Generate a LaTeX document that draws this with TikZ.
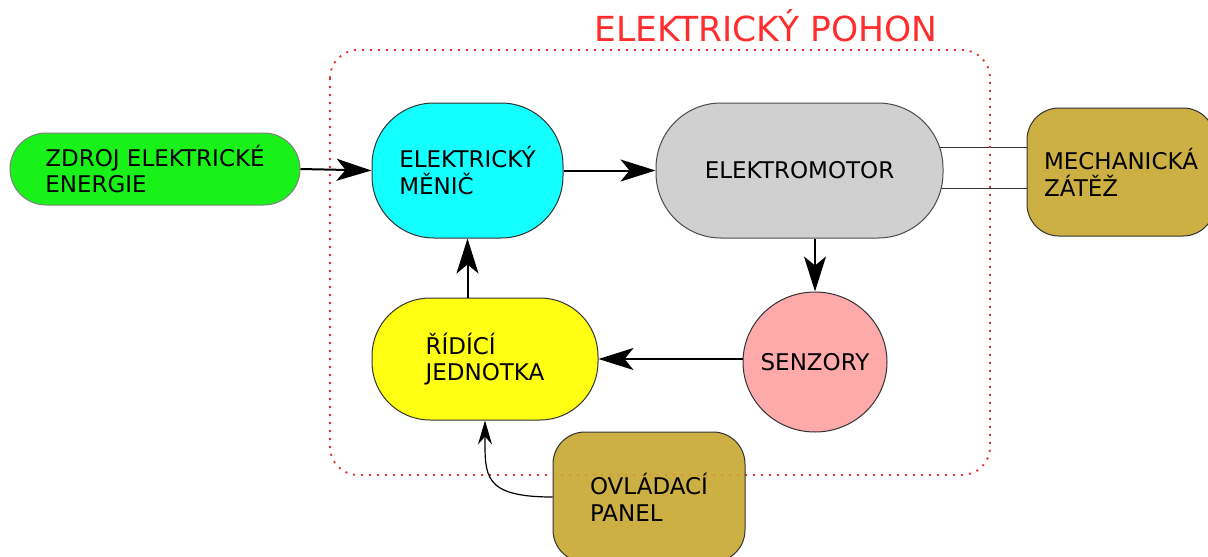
\documentclass[tikz,border=0pt]{standalone}
\usepackage{fontspec}
\setmainfont{DejaVu Sans}
\usetikzlibrary{arrows.meta,shapes.geometric,backgrounds,calc}
\definecolor{cgreen}{RGB}{24,242,24}
\definecolor{ccyan}{RGB}{20,255,255}
\definecolor{cgray}{RGB}{208,208,208}
\definecolor{colive}{RGB}{204,176,68}
\definecolor{cyellow}{RGB}{255,255,20}
\definecolor{cpink}{RGB}{255,170,170}
\definecolor{cred}{RGB}{255,45,45}
\definecolor{cframe}{RGB}{230,50,50}
\definecolor{cborder}{RGB}{50,50,50}
\tikzset{
  blockbox/.style={draw=cborder, line width=1pt, align=left, inner sep=0pt,
    font=\fontsize{23}{26.7}\selectfont},
  mainarrow/.style={line width=2pt, -{Stealth[length=35pt,width=22pt,inset=9pt]}},
  thinarrow/.style={line width=1.2pt, -{Stealth[length=24pt,width=14pt,inset=8pt]}},
  shaft/.style={line width=1pt, draw=cborder},
  framestyle/.style={cframe, line width=1.8pt, dash pattern=on 2pt off 6pt, rounded corners=28pt}
}
\begin{document}
\begin{tikzpicture}[x=1pt,y=-1pt]
\useasboundingbox (0,0) rectangle (1208,557);
% frame
\draw[framestyle] (330,50) rectangle (990,475);
\node[text=cred, font=\fontsize{34.5}{40}\selectfont, anchor=base] (title) at (766,41.7) {ELEKTRICKÝ POHON};
% nodes
\node[blockbox, fill=cgreen, draw=gray, minimum width=290pt, minimum height=72pt, rounded corners=36pt] (zdroj) at (155,169) {ZDROJ ELEKTRICKÉ\\ENERGIE};
\node[blockbox, fill=ccyan, minimum width=191pt, minimum height=135pt, rounded corners=62pt] (menic) at (467.5,170.5) {ELEKTRICKÝ\\MĚNIČ};
\node[blockbox, fill=cgray, draw=gray!60!black, minimum width=287pt, minimum height=135pt, rounded corners=65pt] (motor) at (799.5,170.5) {ELEKTROMOTOR};
\node[blockbox, fill=colive, minimum width=188pt, minimum height=128pt, rounded corners=32pt] (zatez) at (1121,172) {MECHANICKÁ\\ZÁTĚŽ};
\node[blockbox, fill=cyellow, minimum width=226pt, minimum height=122pt, rounded corners=58pt] (ridici) at (485,359) {ŘÍDÍCÍ\\JEDNOTKA};
\node[blockbox, ellipse, fill=cpink, inner xsep=-12pt, minimum width=144pt, minimum height=140pt] (senzory) at (815,362) {SENZORY};
\node[blockbox, fill=colive, minimum width=192pt, minimum height=130pt, rounded corners=32pt] (panel) at (649,497) {OVLÁDACÍ\\PANEL};
% faint frame showing through the panel
\draw[framestyle, opacity=0.2] (330,50) rectangle (990,475);
% shafts between motor and load
\begin{scope}[on background layer]
\draw[shaft] (motor.center |- 0,147) -- (zatez.west |- 0,147);
\draw[shaft] (motor.center |- 0,188) -- (zatez.west |- 0,188);
\end{scope}
% connectors
\draw[mainarrow] (zdroj.east) -- (menic.west);
\draw[mainarrow] (menic.east) -- (motor.west);
\draw[mainarrow] (senzory.north |- motor.south) -- (senzory.north);
\draw[mainarrow] (senzory.west |- ridici.east) -- (ridici.east);
\draw[mainarrow] (menic.south |- ridici.north) -- (menic.south);
\draw[thinarrow] (panel.west) .. controls +(-70,0) and +(0,55) .. (ridici.south);
\end{tikzpicture}
\end{document}
